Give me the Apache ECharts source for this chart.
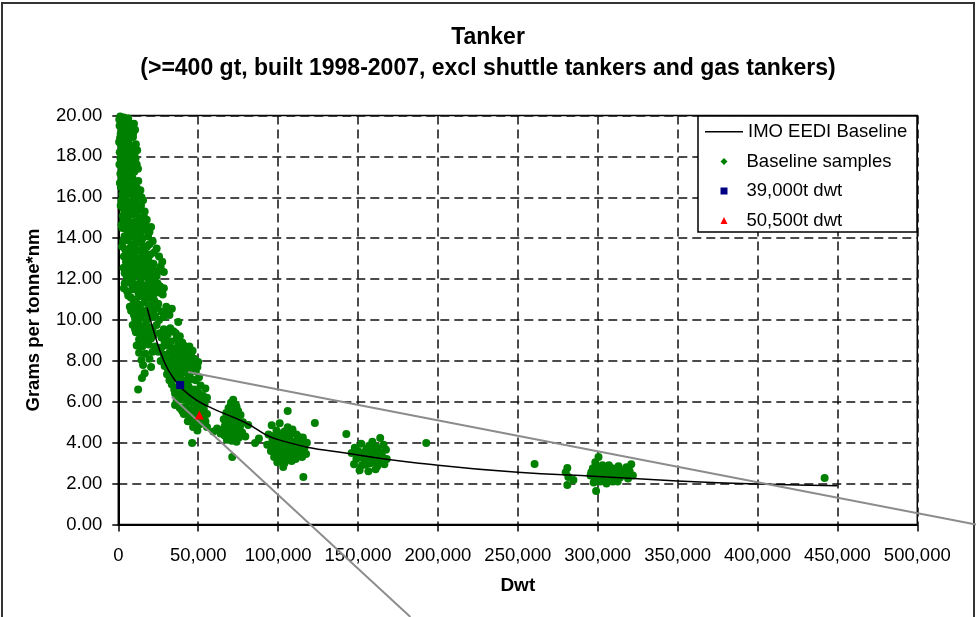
<!DOCTYPE html>
<html>
<head>
<meta charset="utf-8">
<script src="https://cdn.jsdelivr.net/npm/echarts@6/dist/echarts.min.js"></script>
<style>
  html, body { margin: 0; padding: 0; background: #fff; }
  #chart { width: 976px; height: 617px; }
</style>
</head>
<body>
<div id="chart"></div>
<script>
// IMO EEDI baseline [dwt, g/t*nm]
const baselineCurve = [[18000,10.6],[22000,9.5],[28000,8.1],[35000,7.1],[45000,6.3],[55500,5.8],[79000,5.0],[100000,4.15],[150000,3.4],[200000,2.9],[250000,2.55],[300000,2.35],[350000,2.13],[400000,1.98],[450000,1.9]];

// sample ships, small tankers (dense band)
const samplesSmall = [
  [1200,19.95],[3500,19.9],[2200,19.7],[5000,19.75],[800,19.5],[4100,19.55],[6800,19.6],[2900,19.3],[5600,19.25],[1500,19.1],[8200,19.4],[3800,19.05],[7000,19.15],[10500,19.3],
  [600,19.8],[2600,19.6],[4600,19.4],[6200,19.85],[7600,19.3],[9300,19.15],[1900,19.2],[9800,19.6],
  [1100,18.9],[2700,18.8],[4600,18.85],[6300,18.7],[9200,18.95],[1800,18.55],[3600,18.45],[5400,18.6],[7800,18.5],[11000,18.6],[900,18.2],[2500,18.1],[4300,18.25],[6100,18.05],[8700,18.3],[10200,18.15],
  [500,18.7],[2100,18.4],[3900,18.65],[5800,18.35],[7200,18.9],[9800,18.45],[11800,18.3],[3200,18.95],
  [1400,17.9],[3100,17.8],[5200,17.95],[7400,17.7],[9600,17.85],[2000,17.5],[4000,17.45],[6000,17.55],[8300,17.35],[11500,17.6],[1300,17.15],[3300,17.1],[5700,17.2],[7600,17.05],[10000,17.25],
  [700,17.6],[2500,17.3],[4700,17.65],[6700,17.3],[8900,17.55],[10800,17.9],[12300,17.4],[4500,17.05],
  [2200,16.9],[4400,16.85],[6600,16.75],[8800,16.95],[12500,16.8],[1600,16.5],[3700,16.45],[5900,16.55],[8000,16.4],[10400,16.6],[13800,16.35],[2600,16.15],[4800,16.05],[7100,16.2],[9500,16.1],[14500,16.0],
  [1000,16.7],[3000,16.65],[5300,16.3],[7500,16.6],[9800,16.35],[11600,16.45],[13000,16.15],[6300,16.95],
  [2000,15.85],[4200,15.9],[6400,15.75],[8600,15.8],[11000,15.7],[15500,15.85],[3000,15.45],[5300,15.5],[7700,15.35],[10100,15.55],[12800,15.4],[16500,15.3],[2800,15.1],[6000,15.05],[9000,15.15],[13500,15.0],
  [1500,15.6],[3600,15.65],[5800,15.25],[8200,15.6],[11600,15.25],[14200,15.6],[16000,15.05],[10500,15.9],
  [3200,14.85],[5600,14.9],[8100,14.75],[10800,14.8],[14200,14.7],[17800,14.9],[2600,14.5],[4900,14.45],[7300,14.55],[9900,14.35],[12500,14.5],[16000,14.4],[19500,14.3],[3900,14.1],[6700,14.05],[11600,14.15],[15200,14.0],
  [2000,14.65],[4300,14.75],[6500,14.3],[8800,14.1],[11300,14.6],[13600,14.25],[17000,14.65],[18600,14.1],[20500,14.55],
  [3000,13.85],[5800,13.9],[8400,13.7],[11200,13.8],[14600,13.75],[18000,13.6],[21500,13.85],[4300,13.45],[7000,13.5],[9800,13.3],[13000,13.4],[16500,13.35],[20000,13.2],[24000,13.5],[3500,13.1],[6300,13.0],[10600,13.05],[14900,13.15],[18800,12.95],
  [2400,13.6],[5000,13.25],[7700,13.15],[10200,13.6],[12400,13.0],[15600,13.55],[17500,13.05],[19500,13.7],[22500,13.3],[25500,13.1],
  [4800,12.85],[7600,12.8],[12000,12.7],[15800,12.85],[22000,12.75],[27500,12.85],[3300,12.55],[6200,12.4],[9300,12.6],[13500,12.45],[17200,12.55],[20500,12.3],[25000,12.4],[5200,12.15],[8800,12.05],[11500,12.2],[14800,12.1],[19000,12.0],[23000,12.15],
  [4000,12.3],[5800,12.65],[8200,12.35],[10600,12.9],[11000,12.45],[14200,12.65],[16500,12.25],[18500,12.75],[21500,12.55],[24000,12.15],[26500,12.6],[28500,12.35],
  [4000,11.8],[7200,11.85],[10500,11.75],[14000,11.9],[17800,11.7],[21500,11.8],[26000,11.65],[5500,11.4],[9000,11.5],[12500,11.35],[16000,11.45],[19500,11.3],[23500,11.5],[27800,11.25],[7800,11.1],[11000,11.0],[15000,11.15],[18500,11.05],[22500,10.95],
  [3500,11.55],[6200,11.2],[8500,11.75],[11800,11.6],[13200,11.2],[15400,11.65],[17000,11.25],[20000,11.55],[22000,11.25],[24500,11.8],[25500,11.35],[28500,11.55],
  [9500,10.8],[13000,10.75],[16500,10.85],[20500,10.7],[25000,10.8],[30000,10.65],[8000,10.45],[11500,10.35],[14500,10.5],[18000,10.3],[22000,10.45],[27000,10.4],[32000,10.25],[10500,10.05],[13800,10.1],[17500,9.95],[21000,10.15],[25500,10.0],
  [7200,10.65],[9800,10.25],[12200,10.6],[15500,10.3],[19000,10.55],[23000,10.2],[24500,10.6],[28500,10.15],[30500,10.45],[33500,10.55],
  [37500,9.9],[9000,9.75],[12500,9.8],[16000,9.7],[19500,9.65],[24000,9.75],[28500,9.55],[11000,9.4],[14500,9.35],[18000,9.45],[22000,9.25],[31000,9.3],[34500,9.45],[38500,9.2],[13000,9.05],[16500,9.0],[20500,9.1],[29500,9.05],[33000,8.95],[36500,9.1],[40000,8.9],
  [10500,9.55],[13500,9.6],[17000,9.3],[21500,9.5],[26000,9.35],[27000,9.15],[32500,9.6],[36000,9.35],[15000,9.2],
  [11500,8.75],[15000,8.7],[19000,8.8],[27000,8.65],[30500,8.75],[34000,8.6],[37500,8.8],[41500,8.55],[44500,8.7],[13000,8.4],[17000,8.35],[21500,8.45],[28500,8.3],[32000,8.4],[35500,8.25],[39000,8.45],[43000,8.3],[46500,8.5],[14500,8.05],[19500,8.1],[26500,8.0],[30000,8.05],[33500,8.1],[37000,8.0],[40500,8.15],[44000,8.05],
  [17000,8.9],[23000,8.7],[25000,8.45],[29000,8.95],[36000,8.5],[38500,8.1],[41000,8.75],[45500,8.35],[47500,8.1],
  [15500,7.8],[20500,7.7],[29000,7.75],[32500,7.85],[36000,7.7],[39500,7.9],[43000,7.75],[47000,7.85],[50000,7.95],[16500,7.4],[30500,7.35],[34000,7.5],[37500,7.3],[41000,7.45],[44500,7.35],[48500,7.5],[14800,7.16],[32000,7.05],[35500,7.15],[42500,7.0],[46000,7.1],[50500,7.2],
  [31000,7.6],[35000,7.95],[38500,7.55],[42000,7.6],[45500,7.6],[49500,7.7],[33500,7.25],[39500,7.1],[44000,7.2],[48500,7.05],
  [12400,6.6],[33500,6.85],[37000,6.7],[40500,6.9],[44000,6.75],[47500,6.6],[51500,6.8],[54500,6.65],[35500,6.4],[39000,6.3],[42500,6.45],[46000,6.35],[49500,6.5],[53000,6.3],[36500,6.05],[40500,6.1],[44500,6.0],[48000,6.15],[52000,6.05],[55500,6.2],
  [35000,6.6],[38500,6.5],[42000,6.65],[45500,6.55],[50500,6.4],[38000,6.2],[42500,6.25],[46500,5.95],[50500,5.9],[54000,5.9],
  [35500,5.84],[38500,5.7],[42000,5.75],[45500,5.6],[49000,5.7],[53500,5.65],[41000,5.4],[44500,5.3],[48000,5.45],[52500,5.25],[55500,5.4],[43500,5.05],[47000,5.0],[51000,4.9],[54500,5.05],[46800,4.77],[55500,4.77],[49500,4.6],[46200,3.98],
  [40000,5.55],[43500,5.6],[46500,5.35],[50000,5.2],[53000,5.5]
];
const samples70k = [
  [71900,6.1],[70500,5.95],[73500,5.85],[69000,5.7],[72000,5.65],[75000,5.55],[67500,5.45],[70500,5.4],[73500,5.3],[76500,5.35],[66000,5.15],[69000,5.1],[72000,5.2],[75000,5.05],[78000,5.0],
  [67000,4.9],[70000,4.85],[73000,4.8],[76000,4.75],[65500,4.65],[68500,4.6],[71500,4.55],[74500,4.6],[77500,4.5],[66500,4.35],[69500,4.3],[72500,4.4],[75500,4.25],[68000,4.15],[71000,4.1],[74000,4.05],
  [67500,5.0],[70500,4.95],[73500,4.95],[76500,4.9],[66500,4.75],[69500,4.7],[72500,4.7],[75500,4.6],[68000,4.45],[71000,4.45],[74000,4.35],[77000,4.4],[70000,4.2],[73000,4.2],[69500,5.3],[72500,5.5],[71500,5.8],[74000,5.75],
  [61800,4.7],[59500,4.55],[81300,4.87],[85600,3.98],[71300,3.3],[64000,4.45],[79500,4.3]
];
const samples105k = [
  [96000,4.85],[101000,4.95],[106000,4.75],[99000,4.6],[104000,4.55],[109000,4.65],[94000,4.4],[98000,4.35],[102500,4.45],[107000,4.3],[111500,4.4],[115500,4.25],
  [96500,4.15],[100500,4.1],[105000,4.2],[109500,4.05],[113500,4.15],[118000,4.0],[93200,3.9],[98500,3.85],[103000,3.95],[107500,3.8],[112000,3.9],[116500,3.75],
  [95500,3.6],[100000,3.55],[104500,3.65],[109000,3.5],[113500,3.6],[117500,3.45],[97500,3.3],[102000,3.25],[106500,3.35],[111000,3.2],[115000,3.3],[99500,3.05],[104000,3.0],[108500,3.1],
  [99000,4.25],[103500,4.3],[108000,4.45],[112500,4.3],[97000,4.0],[101500,4.0],[106000,3.9],[110500,3.95],[114500,3.95],[96000,3.75],[100500,3.75],[105000,3.75],[109500,3.7],[114000,3.7],
  [98000,3.45],[102500,3.4],[107000,3.5],[111500,3.45],[101000,3.15],[105500,3.15],[110000,3.3],
  [103200,2.81],[115800,2.32],[106000,5.55],[123000,4.96],[88000,4.2]
];
const samples160k = [
  [163900,4.23],[159000,4.05],[152000,3.95],[166000,3.9],[148000,3.75],[155500,3.7],[161500,3.8],[167500,3.65],[146000,3.5],[151000,3.45],[156000,3.4],[160500,3.5],[165000,3.35],
  [149000,3.2],[154000,3.15],[158500,3.25],[163000,3.1],[168000,3.2],[147500,2.95],[152500,2.9],[157500,3.0],[162000,2.85],[166500,2.95],[151000,2.65],[156500,2.6],[161000,2.7],
  [150000,3.6],[154000,3.55],[158000,3.6],[162500,3.65],[152000,3.3],[156000,3.25],[160500,3.3],[164500,3.5],[155000,2.95],[159500,3.1],[157000,3.85],
  [142700,4.42],[192700,3.98]
];
const samplesVlcc = [
  [281000,2.76],[281600,2.32],[281000,1.93],[284800,2.17],[280000,2.55],[260500,2.96],
  [300500,3.3],[298500,3.05],[303000,2.9],[297000,2.75],[301000,2.7],[305000,2.8],[309000,2.75],[313000,2.85],[318000,2.8],[321000,2.95],
  [296000,2.55],[300000,2.5],[304000,2.6],[308000,2.5],[312000,2.55],[316000,2.45],[320000,2.6],[298000,2.3],[302000,2.25],[306000,2.35],[310000,2.2],[314000,2.3],[319000,2.25],
  [297500,2.05],[301500,2.1],[305500,2.0],[309500,2.1],[299000,1.64],[295500,2.4],[322000,2.4],
  [299500,2.6],[303500,2.45],[307500,2.65],[311500,2.4],[315500,2.65],[300500,2.35],[304500,2.15],[308500,2.4],[312500,2.1],[317000,2.5],[299000,2.85],[307000,2.9],[311000,2.55],
  [442000,2.27]
];

const ship39k = [[38700,6.82]];
const ship50k = [[50700,5.35]];

// grey guide lines drawn over the plot (run past the axes)
const guideUpper = [[43700,7.46],[536700,0.0]];
const guideLower = [[33460,6.25],[182800,-4.52]];

const FONT = "'Liberation Sans', Arial, sans-serif";
const GREEN = '#008000';

const chart = echarts.init(document.getElementById('chart'));

const option = {
    animation: false,
    backgroundColor: '#fff',
    title: {
        text: 'Tanker\n(>=400 gt, built 1998-2007, excl shuttle tankers and gas tankers)',
        left: 'center',
        top: 22,
        padding: 0,
        textStyle: {
            fontFamily: FONT,
            fontSize: 23,
            fontWeight: 'bold',
            color: '#000',
            lineHeight: 31
        }
    },
    graphic: [
        {
            type: 'rect',
            shape: { x: 2, y: 3, width: 972, height: 660 },
            style: { fill: 'none', stroke: '#333', lineWidth: 2 },
            silent: true,
            z: -1
        },
        {
            type: 'rect',
            shape: { x: 698, y: 116, width: 219, height: 116 },
            style: { fill: '#fff', stroke: '#000', lineWidth: 1.5 },
            silent: true,
            z: 5
        }
    ],
    legend: [
        {
            data: [{ name: 'IMO EEDI Baseline', icon: 'rect' }],
            left: 705,
            top: 121.7,
            padding: 0,
            itemWidth: 38,
            itemHeight: 1.5,
            z: 10,
            textStyle: { fontFamily: FONT, fontSize: 18.5, color: '#000', lineHeight: 20 }
        },
        {
            data: [
                { name: 'Baseline samples', icon: 'diamond' },
                { name: '39,000t dwt', icon: 'rect' },
                { name: '50,500t dwt', icon: 'triangle' }
            ],
            orient: 'vertical',
            left: 720.5,
            top: 151.5,
            padding: 0,
            itemWidth: 7,
            itemHeight: 7,
            itemGap: 9.5,
            z: 10,
            textStyle: { fontFamily: FONT, fontSize: 18.5, color: '#000', lineHeight: 20, padding: [0, 0, 0, 14] }
        }
    ],
    grid: [
        {
            left: 118.3,
            right: 58.7,
            top: 115.5,
            bottom: 92.5,
            show: true,
            borderColor: '#000',
            borderWidth: 1.5,
            backgroundColor: 'transparent'
        },
        {
            // same scale as the main grid, stretched to the right edge, so the guide lines can run off the plot
            left: 118.3,
            right: 0,
            top: 115.5,
            bottom: 92.5,
            show: false
        }
    ],
    xAxis: [
        {
            type: 'value',
            min: 0,
            max: 500000,
            interval: 50000,
            name: 'Dwt',
            nameLocation: 'middle',
            nameGap: 52,
            nameTextStyle: { fontFamily: FONT, fontSize: 19, fontWeight: 'bold', color: '#000' },
            axisLine: { show: true, onZero: false, lineStyle: { color: '#000', width: 2 } },
            axisTick: { show: true, inside: false, length: 7, lineStyle: { color: '#000', width: 1.5 } },
            axisLabel: {
                margin: 22,
                fontFamily: FONT,
                fontSize: 18.5,
                color: '#000',
                formatter: function (v) { return v.toLocaleString('en-US'); }
            },
            splitLine: { show: true, lineStyle: { color: '#111', width: 1.5, type: [9, 5] } }
        },
        {
            type: 'value',
            gridIndex: 1,
            min: 0,
            max: 536733,
            show: false,
            splitLine: { show: false }
        }
    ],
    yAxis: [
        {
            type: 'value',
            min: 0,
            max: 20,
            interval: 2,
            name: 'Grams per tonne*nm',
            nameLocation: 'middle',
            nameGap: 75,
            nameRotate: 90,
            nameTextStyle: { fontFamily: FONT, fontSize: 18.5, fontWeight: 'bold', color: '#000' },
            axisLine: { show: true, onZero: false, lineStyle: { color: '#000', width: 2 } },
            axisTick: { show: true, inside: false, length: 6, lineStyle: { color: '#000', width: 1.5 } },
            axisLabel: {
                margin: 16,
                fontFamily: FONT,
                fontSize: 18.5,
                color: '#000',
                formatter: function (v) { return v.toFixed(2); }
            },
            splitLine: { show: true, lineStyle: { color: '#111', width: 1.5, type: [9, 5] } }
        },
        {
            type: 'value',
            gridIndex: 1,
            min: 0,
            max: 20,
            show: false,
            splitLine: { show: false }
        }
    ],
    series: [
        {
            name: 'Baseline samples',
            type: 'scatter',
            symbol: 'circle',
            symbolSize: 8,
            itemStyle: { color: GREEN, opacity: 1 },
            data: [].concat(samplesSmall, samples70k, samples105k, samples160k, samplesVlcc),
            z: 2
        },
        {
            name: 'IMO EEDI Baseline',
            type: 'line',
            smooth: true,
            symbol: 'none',
            lineStyle: { color: '#000', width: 1.5 },
            itemStyle: { color: '#000' },
            data: baselineCurve,
            z: 3
        },
        {
            name: 'guideUpper',
            type: 'line',
            xAxisIndex: 1,
            yAxisIndex: 1,
            symbol: 'none',
            clip: false,
            silent: true,
            lineStyle: { color: '#8c8c8c', width: 2 },
            data: guideUpper,
            z: 4
        },
        {
            name: 'guideLower',
            type: 'line',
            xAxisIndex: 1,
            yAxisIndex: 1,
            symbol: 'none',
            clip: false,
            silent: true,
            lineStyle: { color: '#8c8c8c', width: 2 },
            data: guideLower,
            z: 4
        },
        {
            name: '39,000t dwt',
            type: 'scatter',
            symbol: 'rect',
            symbolSize: 8,
            itemStyle: { color: '#000080', opacity: 1 },
            data: ship39k,
            z: 6
        },
        {
            name: '50,500t dwt',
            type: 'scatter',
            symbol: 'triangle',
            symbolSize: 9,
            itemStyle: { color: '#ff0000', opacity: 1 },
            data: ship50k,
            z: 6
        }
    ]
};

chart.setOption(option);
</script>
</body>
</html>
